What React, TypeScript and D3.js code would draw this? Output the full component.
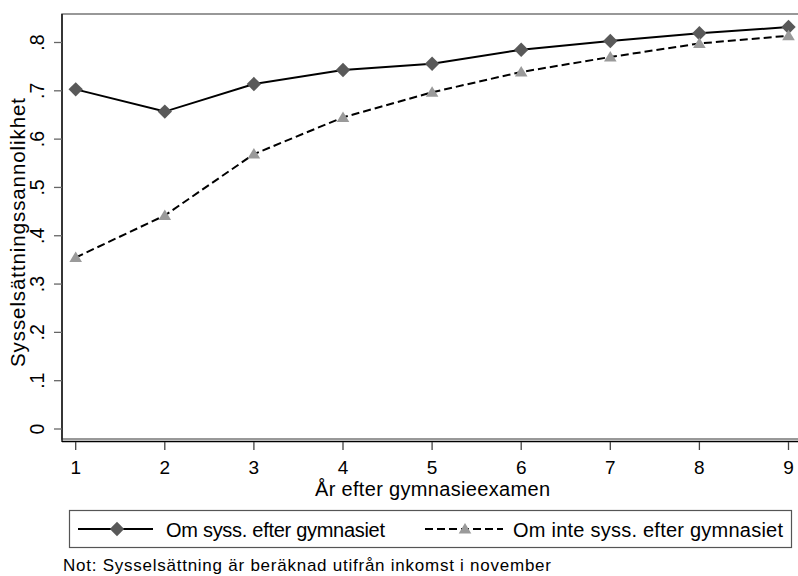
import React from "react";
import * as d3 from "d3";

const years = [1, 2, 3, 4, 5, 6, 7, 8, 9];
const employedAfter = [0.703, 0.657, 0.714, 0.743, 0.756, 0.785, 0.803, 0.819, 0.832];
const notEmployedAfter = [0.355, 0.442, 0.569, 0.645, 0.697, 0.739, 0.77, 0.798, 0.814];
const yTicks = [0, 0.1, 0.2, 0.3, 0.4, 0.5, 0.6, 0.7, 0.8];
const yTickLabels = ["0", ".1", ".2", ".3", ".4", ".5", ".6", ".7", ".8"];
const seriesNames = ["Om syss. efter gymnasiet", "Om inte syss. efter gymnasiet"];

const W = 798;
const H = 576;
const font = "'Liberation Sans', Arial, sans-serif";

const x = d3.scaleLinear().domain([1, 9]).range([75.7, 788.5]);
const y = d3.scaleLinear().domain([0, 0.8]).range([429, 42.5]);

const plot = { left: 62, top: 14, right: 800, bottom: 439 };

const line = d3
  .line<number>()
  .x((_, i) => x(years[i]))
  .y((d) => y(d));

const diamond = (cx: number, cy: number, r = 7.2) =>
  `M${cx},${cy - r}L${cx + r},${cy}L${cx},${cy + r}L${cx - r},${cy}Z`;
const triangle = (cx: number, cy: number, s = 6) =>
  `M${cx},${cy - s}L${cx + s * 1.05},${cy + s * 0.75}L${cx - s * 1.05},${cy + s * 0.75}Z`;

export default function App() {
  return (
    <svg
      width={W}
      height={H}
      style={{ position: "absolute", left: 0, top: 0, background: "#fff" }}
      fontFamily={font}
    >
      <rect x={0} y={0} width={W} height={H} fill="#fff" />
      {/* plot region outline */}
      <rect
        x={plot.left}
        y={plot.top}
        width={plot.right - plot.left}
        height={plot.bottom - plot.top}
        fill="none"
        stroke="#777"
        strokeWidth={1.5}
      />
      {/* axes */}
      <line x1={plot.left} x2={plot.left} y1={plot.top} y2={442} stroke="#000" strokeWidth={1.3} />
      <line x1={plot.left} x2={W} y1={441.5} y2={441.5} stroke="#000" strokeWidth={1.3} />

      {yTicks.map((t, i) => (
        <g key={t}>
          <line x1={54} x2={plot.left} y1={y(t)} y2={y(t)} stroke="#666" strokeWidth={1.3} />
          <text
            transform={`translate(${43.5},${y(t)}) rotate(-90)`}
            textAnchor="middle"
            fontSize={19.5}
            fill="#000"
          >
            {yTickLabels[i]}
          </text>
        </g>
      ))}
      {years.map((yr) => (
        <g key={yr}>
          <line x1={x(yr)} x2={x(yr)} y1={442} y2={450} stroke="#444" strokeWidth={1.3} />
          <text x={x(yr)} y={473.5} textAnchor="middle" fontSize={19} fill="#000">
            {yr}
          </text>
        </g>
      ))}

      <text
        x={315}
        y={495.5}
        fontSize={20}
        fill="#000"
        textLength={235}
        lengthAdjust="spacing"
      >
        År efter gymnasieexamen
      </text>
      <text
        transform={`translate(${25},${367}) rotate(-90)`}
        fontSize={20.5}
        fill="#000"
        textLength={269}
        lengthAdjust="spacing"
      >
        Sysselsättningssannolikhet
      </text>

      {/* series */}
      <path d={line(employedAfter) ?? ""} fill="none" stroke="#000" strokeWidth={2} />
      <path
        d={line(notEmployedAfter) ?? ""}
        fill="none"
        stroke="#000"
        strokeWidth={2}
        strokeDasharray="8,4"
      />
      {employedAfter.map((v, i) => (
        <path key={`d${i}`} d={diamond(x(years[i]), y(v))} fill="#595959" />
      ))}
      {notEmployedAfter.map((v, i) => (
        <path key={`t${i}`} d={triangle(x(years[i]), y(v))} fill="#9a9a9a" />
      ))}

      {/* legend */}
      <rect x={69.5} y={510.5} width={722} height={37} fill="#fff" stroke="#555" strokeWidth={1.2} />
      <line x1={78} x2={153} y1={529} y2={529} stroke="#000" strokeWidth={2} />
      <path d={diamond(117, 529)} fill="#595959" />
      <text x={166} y={536.5} fontSize={20} fill="#000" textLength={219} lengthAdjust="spacing">
        {seriesNames[0]}
      </text>
      <line x1={425} x2={503} y1={529} y2={529} stroke="#000" strokeWidth={2} strokeDasharray="8,4" />
      <path d={triangle(465, 529)} fill="#9a9a9a" />
      <text x={513} y={536.5} fontSize={20} fill="#000" textLength={270} lengthAdjust="spacing">
        {seriesNames[1]}
      </text>

      <text x={63} y={570.5} fontSize={17} fill="#000" textLength={488} lengthAdjust="spacing">
        Not: Sysselsättning är beräknad utifrån inkomst i november
      </text>
    </svg>
  );
}
